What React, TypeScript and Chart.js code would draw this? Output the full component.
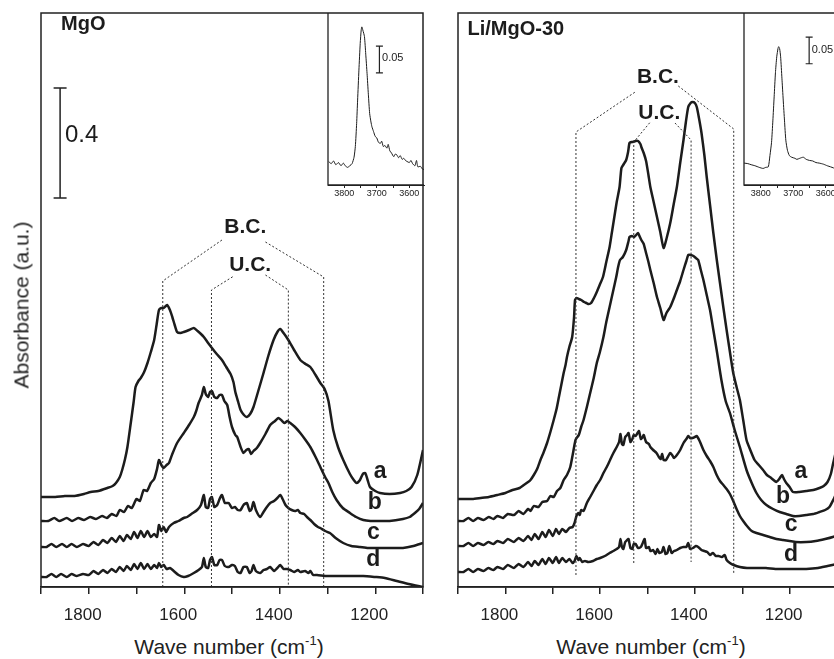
import React, { useEffect, useRef } from "react";
import { Chart, registerables } from "chart.js";
Chart.register(...registerables);

const FONT = '"Liberation Sans", Arial, Helvetica, sans-serif';
const INK = "#1c1c1c";

// ---------- axes ----------
const mainTickValues = [1900, 1800, 1700, 1600, 1500, 1400, 1300, 1200, 1100];
const mainTickLabels = ["", "1800", "", "1600", "", "1400", "", "1200", ""];
const insetTickValues = [3800, 3750, 3700, 3650, 3600];
const insetTickLabels = ["3800", "", "3700", "", "3600"];

// ---------- MgO panel spectra [wavenumber, absorbance (a.u.)] ----------
const mgoA = [[1900,90],[1870,90],[1850,91],[1830,91],[1810,93],[1796,95],[1780,96],[1761,99],[1750,101],[1743,104],[1735,110],[1730,117],[1724,128],[1719,140],[1712,164],[1706,185],[1702,200],[1696,206],[1691,209],[1684,215],[1677,224],[1670,235],[1663,247],[1658,262],[1653,277],[1648,279],[1643,279],[1636,282],[1630,277],[1625,270],[1620,262],[1615,255],[1608,254],[1601,255],[1590,257],[1580,259],[1572,256],[1565,253],[1559,250],[1550,244],[1542,239],[1532,233],[1521,227],[1512,220],[1503,213],[1497,205],[1493,195],[1487,185],[1482,177],[1475,172],[1469,170],[1462,173],[1455,180],[1445,196],[1434,214],[1424,231],[1413,247],[1405,255],[1399,258],[1392,254],[1382,247],[1370,237],[1357,227],[1346,223],[1336,220],[1325,212],[1315,204],[1306,198],[1298,186],[1288,157],[1278,140],[1267,127],[1253,113],[1245,107],[1239,104],[1232,107],[1226,113],[1221,114],[1216,107],[1211,100],[1200,96],[1190,94],[1170,93],[1148,94],[1135,96],[1124,100],[1112,112],[1100,137]];
const mgoB = [[1900,66],[1885,66],[1872,69],[1862,66],[1846,69],[1835,66],[1822,69],[1810,67],[1797,70],[1785,68],[1772,71],[1762,69],[1752,73],[1742,71],[1735,77],[1726,75],[1718,81],[1710,79],[1700,88],[1693,86],[1685,97],[1678,96],[1670,104],[1663,108],[1657,118],[1653,127],[1648,122],[1643,119],[1637,122],[1632,124],[1625,133],[1615,144],[1601,154],[1590,162],[1580,170],[1575,176],[1570,184],[1563,192],[1559,200],[1555,193],[1550,190],[1546,195],[1542,196],[1537,190],[1531,189],[1526,192],[1521,192],[1516,186],[1510,182],[1505,170],[1500,160],[1493,152],[1489,150],[1482,140],[1476,134],[1470,137],[1465,138],[1460,133],[1455,136],[1448,139],[1441,144],[1430,153],[1420,162],[1410,166],[1403,169],[1397,167],[1390,164],[1384,166],[1378,164],[1368,160],[1357,154],[1346,147],[1336,140],[1325,130],[1315,120],[1305,110],[1298,104],[1290,95],[1281,87],[1268,79],[1253,74],[1240,70],[1225,67],[1210,66],[1197,66],[1170,66],[1142,68],[1128,70],[1117,74],[1108,78],[1100,84]];
const mgoC = [[1900,40],[1888,40],[1878,43],[1868,40],[1856,43],[1846,40],[1836,43],[1825,40],[1812,43],[1800,41],[1790,45],[1780,42],[1770,47],[1761,44],[1752,49],[1743,45],[1735,51],[1727,46],[1720,52],[1712,48],[1705,55],[1698,49],[1691,56],[1684,50],[1677,56],[1670,50],[1663,53],[1657,50],[1653,62],[1648,56],[1643,60],[1638,55],[1632,60],[1622,64],[1612,66],[1601,69],[1594,70],[1585,73],[1573,77],[1565,82],[1559,92],[1555,80],[1550,79],[1546,88],[1542,90],[1537,80],[1531,82],[1526,88],[1521,92],[1515,84],[1507,84],[1500,79],[1494,80],[1488,77],[1482,77],[1476,82],[1469,84],[1463,76],[1459,78],[1455,85],[1450,77],[1441,70],[1434,75],[1427,80],[1420,84],[1412,86],[1405,89],[1399,92],[1394,88],[1388,82],[1382,79],[1375,77],[1368,76],[1362,77],[1357,74],[1349,73],[1343,70],[1336,67],[1328,63],[1320,60],[1315,59],[1305,56],[1295,54],[1283,49],[1267,44],[1250,41],[1232,40],[1215,39],[1197,39],[1170,39],[1142,39],[1120,41],[1100,44]];
const mgoD = [[1900,10],[1888,10],[1878,13],[1868,10],[1858,13],[1846,10],[1836,13],[1825,11],[1812,13],[1800,12],[1790,16],[1780,13],[1770,17],[1761,14],[1752,18],[1743,15],[1735,20],[1727,16],[1720,21],[1712,17],[1705,23],[1698,18],[1691,24],[1684,18],[1677,23],[1670,18],[1663,22],[1657,19],[1653,24],[1648,20],[1643,22],[1637,18],[1630,19],[1622,16],[1612,12],[1601,10],[1592,11],[1580,14],[1570,17],[1563,20],[1559,29],[1555,20],[1550,19],[1546,27],[1542,30],[1537,22],[1531,22],[1526,27],[1521,27],[1515,21],[1507,20],[1500,22],[1494,21],[1488,15],[1482,14],[1476,20],[1469,20],[1463,14],[1459,16],[1455,22],[1450,16],[1441,14],[1434,17],[1427,18],[1420,20],[1412,16],[1405,19],[1399,22],[1392,18],[1385,18],[1378,17],[1370,15],[1362,17],[1357,15],[1347,16],[1340,14],[1336,16],[1330,12],[1322,12],[1300,11],[1260,11],[1225,11],[1200,10],[1180,9],[1155,6],[1130,3],[1100,0]];

// ---------- Li/MgO-30 panel spectra ----------
const liA = [[1900,88],[1870,88],[1852,89],[1835,90],[1817,92],[1800,94],[1785,97],[1770,99],[1761,102],[1752,105],[1747,107],[1740,112],[1733,118],[1726,127],[1719,135],[1712,144],[1705,155],[1698,167],[1692,178],[1687,190],[1682,202],[1677,214],[1673,222],[1670,230],[1665,240],[1659,250],[1655,270],[1653,287],[1650,289],[1645,288],[1640,287],[1634,285],[1629,284],[1624,283],[1619,284],[1613,289],[1608,294],[1601,302],[1594,310],[1587,325],[1580,340],[1575,355],[1570,370],[1565,385],[1559,400],[1555,419],[1550,423],[1545,427],[1541,435],[1538,444],[1534,445],[1531,445],[1525,446],[1520,446],[1515,443],[1513,440],[1508,434],[1503,426],[1498,412],[1494,400],[1487,385],[1480,370],[1473,355],[1466,339],[1459,350],[1452,364],[1445,382],[1438,400],[1431,424],[1424,447],[1419,465],[1414,480],[1409,484],[1405,485],[1400,484],[1396,480],[1391,468],[1386,454],[1380,432],[1375,410],[1368,382],[1361,354],[1354,328],[1347,304],[1340,280],[1333,257],[1326,235],[1319,214],[1312,200],[1305,187],[1298,167],[1291,147],[1283,137],[1274,127],[1265,122],[1256,117],[1248,112],[1239,109],[1228,105],[1222,108],[1216,112],[1212,108],[1207,104],[1200,100],[1193,95],[1180,95],[1165,96],[1150,97],[1137,99],[1128,101],[1120,105],[1113,113],[1108,124],[1100,140]];
const liB = [[1900,66],[1888,66],[1878,69],[1868,66],[1858,69],[1846,67],[1835,70],[1825,68],[1817,71],[1805,69],[1795,73],[1782,72],[1772,76],[1762,73],[1752,78],[1747,76],[1740,81],[1730,80],[1722,85],[1712,86],[1705,91],[1698,90],[1691,96],[1684,99],[1677,107],[1670,112],[1663,120],[1658,132],[1652,147],[1648,150],[1645,152],[1640,160],[1635,167],[1628,180],[1621,194],[1614,208],[1607,224],[1601,234],[1593,250],[1587,265],[1580,280],[1573,295],[1566,310],[1562,320],[1558,327],[1552,330],[1545,337],[1540,346],[1538,350],[1533,351],[1528,350],[1524,352],[1520,354],[1516,350],[1513,347],[1508,343],[1503,334],[1498,325],[1494,317],[1487,304],[1480,290],[1473,279],[1466,267],[1460,274],[1452,280],[1445,288],[1438,297],[1431,306],[1424,317],[1418,326],[1414,332],[1409,332],[1403,331],[1398,329],[1393,327],[1388,318],[1382,307],[1375,292],[1368,277],[1361,257],[1354,237],[1344,207],[1335,186],[1326,174],[1316,157],[1305,140],[1291,117],[1280,104],[1270,94],[1260,87],[1249,82],[1235,78],[1221,75],[1207,73],[1193,71],[1180,71],[1165,72],[1150,73],[1137,75],[1125,77],[1116,80],[1108,87],[1100,95]];
const liC = [[1900,41],[1888,41],[1878,44],[1868,41],[1858,44],[1846,42],[1836,45],[1825,43],[1817,46],[1805,44],[1795,48],[1782,45],[1772,49],[1762,46],[1752,51],[1745,47],[1738,53],[1730,48],[1722,55],[1715,50],[1708,57],[1700,51],[1693,58],[1687,53],[1680,58],[1672,55],[1665,59],[1658,60],[1654,64],[1650,71],[1646,74],[1643,72],[1640,77],[1635,76],[1628,84],[1621,90],[1614,96],[1607,102],[1600,107],[1593,114],[1586,120],[1579,127],[1572,134],[1565,140],[1560,145],[1557,153],[1554,143],[1551,142],[1547,150],[1543,152],[1540,154],[1536,145],[1532,148],[1529,152],[1525,151],[1521,154],[1518,156],[1514,148],[1510,150],[1508,152],[1503,145],[1497,143],[1494,140],[1488,137],[1481,134],[1476,130],[1472,128],[1469,133],[1466,127],[1461,127],[1456,131],[1452,134],[1448,132],[1444,129],[1438,132],[1431,137],[1424,144],[1418,148],[1414,151],[1410,149],[1405,149],[1400,150],[1396,151],[1390,146],[1382,137],[1375,131],[1368,126],[1361,120],[1354,112],[1347,106],[1340,102],[1333,98],[1326,93],[1319,86],[1312,78],[1305,71],[1298,66],[1290,61],[1280,56],[1270,54],[1256,52],[1242,50],[1228,48],[1214,47],[1200,46],[1187,45],[1165,45],[1145,46],[1125,48],[1109,50],[1100,52]];
const liD = [[1900,15],[1888,15],[1878,18],[1868,15],[1858,18],[1846,16],[1836,19],[1825,17],[1817,20],[1805,18],[1795,22],[1782,19],[1772,23],[1762,20],[1752,25],[1745,21],[1738,26],[1730,22],[1722,28],[1715,23],[1708,29],[1700,24],[1693,30],[1687,24],[1680,29],[1672,25],[1665,28],[1658,24],[1654,26],[1650,31],[1646,27],[1643,29],[1638,25],[1632,26],[1625,25],[1615,26],[1607,28],[1600,29],[1590,31],[1580,34],[1572,36],[1565,38],[1560,40],[1557,48],[1554,40],[1551,38],[1547,45],[1543,47],[1540,48],[1536,39],[1532,38],[1529,43],[1525,43],[1520,39],[1514,40],[1510,44],[1506,48],[1503,39],[1497,40],[1494,36],[1488,37],[1483,33],[1479,38],[1475,34],[1470,35],[1466,40],[1462,33],[1458,34],[1454,41],[1449,34],[1444,36],[1438,37],[1431,39],[1424,40],[1418,40],[1414,44],[1410,38],[1404,39],[1398,41],[1393,40],[1386,37],[1380,36],[1374,35],[1368,32],[1362,34],[1356,31],[1350,31],[1343,30],[1337,32],[1333,27],[1326,24],[1318,22],[1305,20],[1290,19],[1270,19],[1250,19],[1230,18],[1210,18],[1190,18],[1165,18],[1140,19],[1120,21],[1100,23]];

// ---------- dotted guide lines (B.C. / U.C. brackets) ----------
const mgoGuideBC1 = [[1645,0],[1645,306],[1521,347]];
const mgoGuideBC2 = [[1430,345],[1308,310],[1308,0]];
const mgoGuideUC1 = [[1543,0],[1543,297],[1496,311]];
const mgoGuideUC2 = [[1430,312],[1382,297],[1382,0]];
const liGuideBC1 = [[1651,12],[1651,455],[1526,495]];
const liGuideBC2 = [[1435,501],[1318,458],[1318,14]];
const liGuideUC1 = [[1529,24],[1529,445],[1494,465]];
const liGuideUC2 = [[1442,464],[1408,447],[1408,25]];

// ---------- text annotations ----------
const curveNames = ["a", "b", "c", "d"];
const mgoNamePos = [[1190,115],[1201,84],[1204,54],[1204,27]];
const liNamePos = [[1176,115],[1214,90],[1197,62],[1197,32]];
const bracketNames = ["B.C.", "U.C."];
const mgoBracketPos = [[1472,360],[1462,322]];
const liBracketPos = [[1478,510],[1475,474]];
const mgoTitle = { text: "MgO", pos: [1858, 563] };
const liTitle = { text: "Li/MgO-30", pos: [1880, 558] };
const mgoScaleBar = { x: 1860, y: [389, 499], label: "0.4", labelPos: [1850, 452] };

// ---------- insets (O-H region) ----------
const mgoInset = [[3848,0.044],[3840,0.040],[3833,0.045],[3826,0.038],[3818,0.042],[3810,0.036],[3803,0.041],[3797,0.036],[3790,0.033],[3783,0.036],[3776,0.040],[3770,0.052],[3766,0.072],[3762,0.115],[3759,0.159],[3755,0.215],[3751,0.265],[3748,0.290],[3746,0.296],[3743,0.290],[3738,0.278],[3734,0.245],[3730,0.209],[3726,0.170],[3722,0.134],[3718,0.118],[3715,0.109],[3710,0.100],[3705,0.091],[3700,0.088],[3695,0.080],[3689,0.078],[3685,0.082],[3680,0.072],[3675,0.074],[3669,0.069],[3665,0.076],[3660,0.064],[3655,0.060],[3648,0.053],[3643,0.058],[3638,0.056],[3633,0.051],[3628,0.055],[3622,0.048],[3617,0.050],[3612,0.046],[3607,0.044],[3600,0.042],[3595,0.046],[3590,0.040],[3583,0.036],[3578,0.046],[3574,0.034],[3566,0.035],[3560,0.030],[3555,0.029]];
const liInset = [[3852,0.041],[3840,0.040],[3830,0.038],[3818,0.036],[3805,0.033],[3793,0.031],[3785,0.033],[3777,0.034],[3772,0.055],[3767,0.080],[3763,0.120],[3759,0.165],[3755,0.210],[3751,0.240],[3747,0.256],[3745,0.259],[3742,0.255],[3739,0.240],[3735,0.200],[3731,0.159],[3727,0.120],[3723,0.084],[3718,0.065],[3712,0.055],[3705,0.052],[3695,0.050],[3689,0.048],[3680,0.050],[3669,0.052],[3660,0.048],[3650,0.046],[3640,0.045],[3630,0.042],[3620,0.041],[3607,0.039],[3595,0.036],[3585,0.034],[3576,0.032],[3562,0.029]];
const mgoInsetBar = { x: 3692, y: [0.210, 0.260], label: "0.05", labelPos: [3684, 0.237] };
const liInsetBar = { x: 3651, y: [0.227, 0.277], label: "0.05", labelPos: [3643, 0.253] };

const toPts = (arr: number[][]) => arr.map(([x, y]) => ({ x, y }));

function tickScale(values: number[], labels: string[], font: number, tickLen: number, pad: number, height: number, min: number, max: number, lw: number, labelOffset: number) {
  return {
    type: "linear",
    reverse: true,
    min,
    max,
    afterBuildTicks: (s: any) => { s.ticks = values.map((v) => ({ value: v })); },
    afterFit: (s: any) => { s.height = height; },
    ticks: {
      autoSkip: false,
      maxRotation: 0,
      padding: pad,
      labelOffset,
      color: "#222",
      font: { family: FONT, size: font },
      callback: (v: number) => { const i = values.indexOf(v); return i >= 0 ? labels[i] : ""; },
    },
    grid: { drawOnChartArea: false, drawTicks: true, tickLength: tickLen, color: "#222", lineWidth: lw },
    border: { display: true, color: "#222", width: lw },
  };
}

function mainConfig(curves: number[][][], guides: number[][][], namePos: number[][], bracketPos: number[][], title: any, bar: any) {
  const plugin = {
    id: "panelDeco",
    afterDatasetsDraw(chart: any) {
      const { ctx, chartArea: a, scales } = chart;
      const X = (v: number) => scales.x.getPixelForValue(v);
      const Y = (v: number) => scales.y.getPixelForValue(v);
      ctx.save();
      ctx.strokeStyle = "#222";
      ctx.lineWidth = 1.5;
      ctx.strokeRect(a.left, a.top, a.right - a.left, a.bottom - a.top);
      ctx.fillStyle = INK;
      ctx.textBaseline = "middle";
      ctx.textAlign = "center";
      ctx.font = `bold 23px ${FONT}`;
      curveNames.forEach((t, i) => ctx.fillText(t, X(namePos[i][0]), Y(namePos[i][1])));
      ctx.font = `bold 21px ${FONT}`;
      bracketNames.forEach((t, i) => ctx.fillText(t, X(bracketPos[i][0]), Y(bracketPos[i][1])));
      ctx.textAlign = "left";
      ctx.font = `bold 20px ${FONT}`;
      ctx.fillText(title.text, X(title.pos[0]), Y(title.pos[1]));
      if (bar) {
        const bx = X(bar.x), y0 = Y(bar.y[0]), y1 = Y(bar.y[1]);
        ctx.lineWidth = 1.5;
        ctx.beginPath();
        ctx.moveTo(bx, y0); ctx.lineTo(bx, y1);
        ctx.moveTo(bx - 6.5, y0); ctx.lineTo(bx + 6.5, y0);
        ctx.moveTo(bx - 6.5, y1); ctx.lineTo(bx + 6.5, y1);
        ctx.stroke();
        ctx.font = `24px ${FONT}`;
        ctx.fillText(bar.label, X(bar.labelPos[0]), Y(bar.labelPos[1]));
      }
      ctx.restore();
    },
  };
  return {
    type: "scatter",
    data: {
      datasets: [
        ...guides.map((g) => ({ data: toPts(g), showLine: true, borderColor: "#333", borderWidth: 1, borderDash: [2, 2], pointRadius: 0, tension: 0 })),
        ...curves.map((c) => ({ data: toPts(c), showLine: true, borderColor: INK, borderWidth: 2.5, pointRadius: 0, tension: 0.2 })),
      ],
    },
    options: {
      responsive: false,
      animation: false,
      devicePixelRatio: 1,
      events: [],
      layout: { padding: { left: 10, right: 10, top: 10, bottom: 0 } },
      plugins: { legend: { display: false }, tooltip: { enabled: false } },
      scales: {
        x: tickScale(mainTickValues, mainTickLabels, 17, 7, 11, 40, 1100, 1900, 1.5, -6),
        y: { display: false, min: 0, max: 574 },
      },
    },
    plugins: [plugin],
  };
}

function insetConfig(curve: number[][], bar: any, min: number, max: number) {
  const plugin = {
    id: "insetDeco",
    afterDatasetsDraw(chart: any) {
      const { ctx, chartArea: a, scales } = chart;
      const X = (v: number) => scales.x.getPixelForValue(v);
      const Y = (v: number) => scales.y.getPixelForValue(v);
      ctx.save();
      ctx.strokeStyle = "#222";
      ctx.lineWidth = 1.3;
      ctx.beginPath();
      ctx.moveTo(a.left, a.top); ctx.lineTo(a.left, a.bottom); ctx.lineTo(a.right, a.bottom);
      ctx.stroke();
      const bx = X(bar.x), y0 = Y(bar.y[0]), y1 = Y(bar.y[1]);
      ctx.lineWidth = 1.2;
      ctx.beginPath();
      ctx.moveTo(bx, y0); ctx.lineTo(bx, y1);
      ctx.moveTo(bx - 3.5, y0); ctx.lineTo(bx + 3.5, y0);
      ctx.moveTo(bx - 3.5, y1); ctx.lineTo(bx + 3.5, y1);
      ctx.stroke();
      ctx.fillStyle = "#222";
      ctx.font = `11px ${FONT}`;
      ctx.textAlign = "left";
      ctx.textBaseline = "middle";
      ctx.fillText(bar.label, X(bar.labelPos[0]), Y(bar.labelPos[1]));
      ctx.restore();
    },
  };
  return {
    type: "scatter",
    data: {
      datasets: [{ data: toPts(curve), showLine: true, borderColor: INK, borderWidth: 1, pointRadius: 0, tension: 0.2 }],
    },
    options: {
      responsive: false,
      animation: false,
      devicePixelRatio: 1,
      events: [],
      layout: { padding: { left: 10, right: 10, top: 10, bottom: 0 } },
      plugins: { legend: { display: false }, tooltip: { enabled: false } },
      scales: {
        x: tickScale(insetTickValues, insetTickLabels, 9, 3, 0, 16, min, max, 1, 0),
        y: { display: false, min: 0, max: 0.322 },
      },
    },
    plugins: [plugin],
  };
}

function ChartCanvas({ left, top, width, height, make }: { left: number; top: number; width: number; height: number; make: () => any }) {
  const ref = useRef<HTMLCanvasElement>(null);
  useEffect(() => {
    const chart = new Chart(ref.current as HTMLCanvasElement, make());
    return () => chart.destroy();
  }, []);
  return <canvas ref={ref} width={width} height={height} style={{ position: "absolute", left, top, width, height }} />;
}

const textStyle: React.CSSProperties = { position: "absolute", fontFamily: FONT, color: "#222", fontSize: 21, lineHeight: 1, whiteSpace: "nowrap", transform: "translate(-50%, -50%)" };

function XTitle({ cx }: { cx: number }) {
  return (
    <div style={{ ...textStyle, left: cx, top: 646 }}>
      Wave number (cm<sup style={{ fontSize: 13, verticalAlign: 9, lineHeight: 0 }}>-1</sup>)
    </div>
  );
}

export default function App() {
  return (
    <div style={{ position: "fixed", left: 0, top: 0, width: 834, height: 659, overflow: "hidden", background: "#fff" }}>
      <ChartCanvas left={30} top={3} width={404} height={624}
        make={() => mainConfig([mgoA, mgoB, mgoC, mgoD], [mgoGuideBC1, mgoGuideBC2, mgoGuideUC1, mgoGuideUC2], mgoNamePos, mgoBracketPos, mgoTitle, mgoScaleBar)} />
      <ChartCanvas left={447} top={3} width={401} height={624}
        make={() => mainConfig([liA, liB, liC, liD], [liGuideBC1, liGuideBC2, liGuideUC1, liGuideUC2], liNamePos, liBracketPos, liTitle, null)} />
      <ChartCanvas left={318} top={3} width={116} height={198}
        make={() => insetConfig(mgoInset, mgoInsetBar, 3555, 3850)} />
      <ChartCanvas left={734} top={3} width={114} height={198}
        make={() => insetConfig(liInset, liInsetBar, 3562, 3852)} />
      <div style={{ ...textStyle, left: 21, top: 305, transform: "translate(-50%, -50%) rotate(-90deg)" }}>Absorbance (a.u.)</div>
      <XTitle cx={229} />
      <XTitle cx={651} />
    </div>
  );
}
